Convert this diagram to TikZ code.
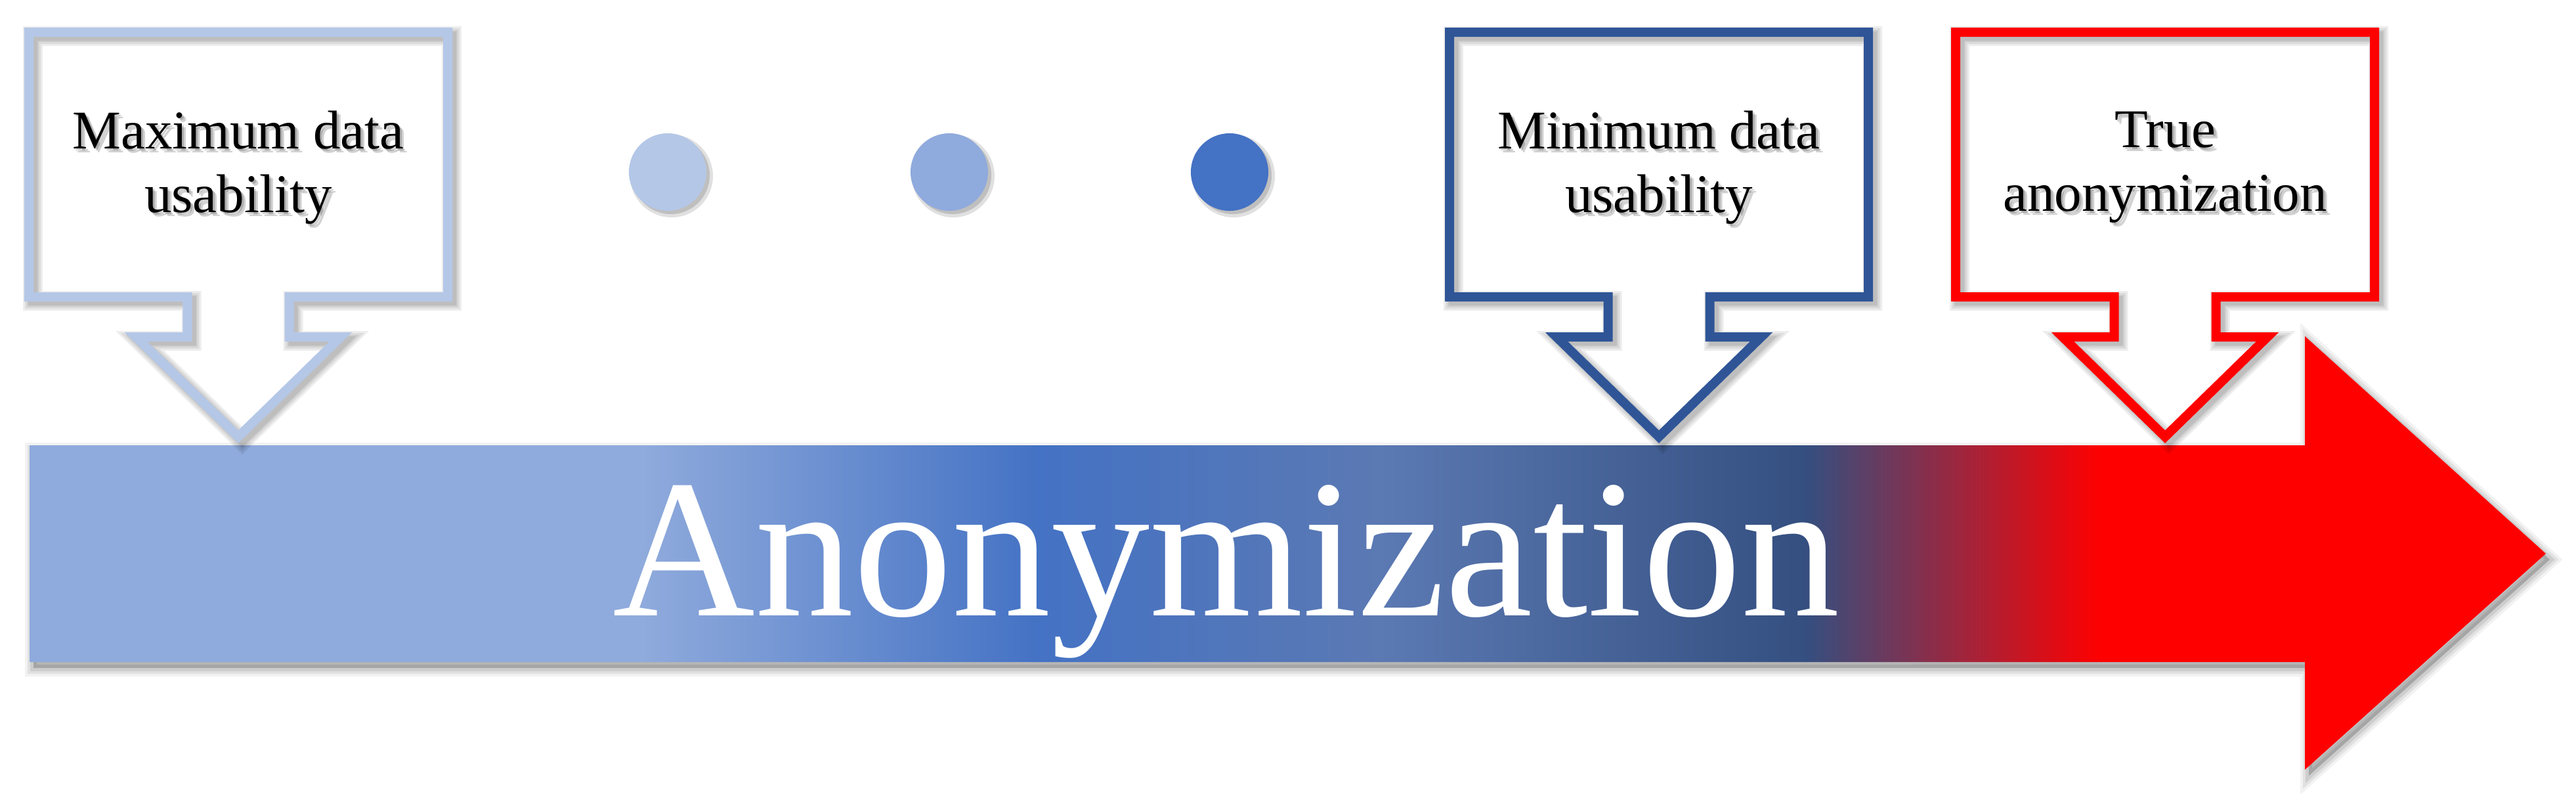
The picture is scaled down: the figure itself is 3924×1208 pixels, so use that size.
\documentclass[tikz,border=0pt]{standalone}
\usepackage{fontspec}
\setmainfont{Liberation Serif}
\definecolor{lb}{HTML}{B4C7E7}
\definecolor{mb}{HTML}{8FAADC}
\definecolor{ab}{HTML}{4472C4}
\definecolor{db}{HTML}{2F5597}
\definecolor{gb}{HTML}{5B79B3}
\definecolor{nb}{HTML}{344F80}
\definecolor{rd}{HTML}{FF0000}
\tikzset{
  calloutline/.style={draw=#1, line width=0.14cm, line join=miter},
  shadowline/.style={draw=black, line join=miter, draw opacity=0.07, line width=#1},
  ctext/.style={font=\fontsize{23.6}{27.6}\selectfont, align=center, inner sep=0pt},
  dotnode/.style={circle, minimum size=1.18cm, inner sep=0pt, fill=#1},
  dotshadow/.style={circle, minimum size=1.18cm, inner sep=0pt, fill=black, fill opacity=#1},
  bigtext/.style={font=\fontsize{85.4}{90}\selectfont, text=white, inner sep=0pt, anchor=base},
}
\begin{document}
\begin{tikzpicture}[x=0.01cm, y=-0.01cm]
\useasboundingbox (0,0) rectangle (3924,1208);

% ---- main arrow shadow ----
\foreach \w/\o in {26/0.05, 18/0.07, 10/0.09} {
  \fill[black, fill opacity=\o, shift={(6,9)}]
    (45,678) -- (3511,678) -- (3511,512) -- (3878,843) -- (3511,1172) -- (3511,1008) -- (45,1008) -- cycle;
  \draw[black, draw opacity=\o, line width=\w*0.01cm, line join=miter, shift={(6,9)}]
    (45,678) -- (3511,678) -- (3511,512) -- (3878,843) -- (3511,1172) -- (3511,1008) -- (45,1008) -- cycle;
}

% ---- main arrow with gradient ----
\begin{scope}
  \clip (45,678) -- (3511,678) -- (3511,512) -- (3878,843) -- (3511,1172) -- (3511,1008) -- (45,1008) -- cycle;
  \fill[mb] (40,500) rectangle (982,1180);
  \shade[left color=mb, right color=ab] (980,500) rectangle (1582,1180);
  \shade[left color=ab, right color=gb] (1580,500) rectangle (2102,1180);
  \shade[left color=gb, right color=nb] (2100,500) rectangle (2752,1180);
  \shade[left color=nb, right color=rd] (2750,500) rectangle (3202,1180);
  \fill[rd] (3200,500) rectangle (3890,1180);
\end{scope}

\node[bigtext] (anon) at (1868,937) {Anonymization};

% ---- dots ----
\foreach \x/\c/\n in {1017/lb/d1, 1446/mb/d2, 1873/ab/d3} {
  \node[dotshadow=0.12, minimum size=1.26cm] at (\x+6,268) {};
  \node[dotshadow=0.15] at (\x+5,267) {};
  \node[dotnode=\c] (\n) at (\x,262) {};
}

% ---- callouts ----
\foreach \cx/\col/\nm/\txt in {363/lb/cmax/{Maximum data\\usability},
                               2527/db/cmin/{Minimum data\\usability},
                               3298/rd/ctrue/{True\\anonymization}} {
  \foreach \w in {30,24,18,14} {
    \draw[shadowline=\w*0.01cm, shift={(6,6)}]
      (\cx-319,49) -- (\cx+319,49) -- (\cx+319,452) -- (\cx+77.5,452) -- (\cx+77.5,513)
      -- (\cx+156,513) -- (\cx,665) -- (\cx-156,513) -- (\cx-77.5,513) -- (\cx-77.5,452)
      -- (\cx-319,452) -- cycle;
  }
  \draw[calloutline=\col]
      (\cx-319,49) -- (\cx+319,49) -- (\cx+319,452) -- (\cx+77.5,452) -- (\cx+77.5,513)
      -- (\cx+156,513) -- (\cx,665) -- (\cx-156,513) -- (\cx-77.5,513) -- (\cx-77.5,452)
      -- (\cx-319,452) -- cycle;
  \node[ctext, text=black, text opacity=0.18] at (\cx+6,261) {\txt};
  \node[ctext, text=black, text opacity=0.18] at (\cx+3,258) {\txt};
  \node[ctext, text=black] (\nm) at (\cx,255) {\txt};
}
\end{tikzpicture}
\end{document}
